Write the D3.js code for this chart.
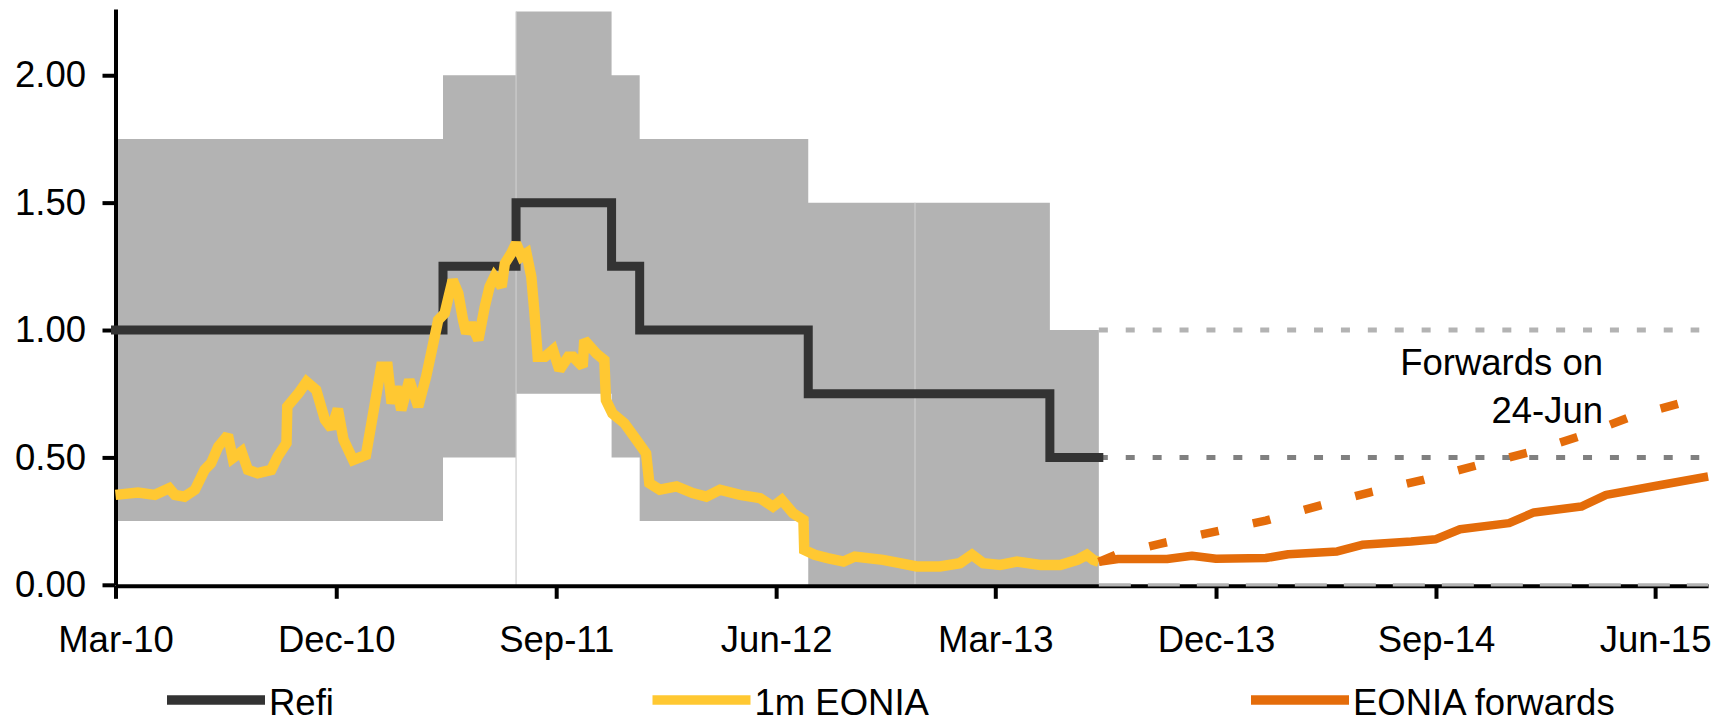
<!DOCTYPE html>
<html>
<head>
<meta charset="utf-8">
<script src="https://cdn.jsdelivr.net/npm/d3@7/dist/d3.min.js"></script>
<style>
  html, body { margin: 0; padding: 0; background: #ffffff; }
  svg { display: block; }
  text { font-family: "Liberation Sans", Arial, Helvetica, sans-serif; fill: #000; }
</style>
</head>
<body>
<div id="chart"></div>
<script>
// ---- Axis ticks ----
const xTickDates  = ["2010-03-01","2010-12-01","2011-09-01","2012-06-01","2013-03-01","2013-12-01","2014-09-01","2015-06-01"];
const xTickLabels = ["Mar-10","Dec-10","Sep-11","Jun-12","Mar-13","Dec-13","Sep-14","Jun-15"];
const yTicks      = [0, 0.5, 1, 1.5, 2];

// ---- ECB policy rates (effective dates, last entry closes the history) ----
const policyDates  = ["2010-03-01","2011-04-13","2011-07-13","2011-11-09","2011-12-14","2012-07-11","2013-05-08","2013-07-08"];
const refiRate     = [1.00, 1.25, 1.50, 1.25, 1.00, 0.75, 0.50];
const depositRate  = [0.25, 0.50, 0.75, 0.50, 0.25, 0.00, 0.00];
const lendingRate  = [1.75, 2.00, 2.25, 2.00, 1.75, 1.50, 1.00];
// where the corridor shading is split into separate pieces
const corridorSeams = ["2011-07-13","2012-11-21"];

// ---- 1m EONIA ----
const eoniaDates = [
  "2010-03-01","2010-03-29","2010-04-19","2010-05-07","2010-05-14","2010-05-26","2010-06-08","2010-06-20",
  "2010-06-28","2010-07-07","2010-07-19","2010-07-25","2010-08-05","2010-08-13","2010-08-25","2010-09-11",
  "2010-09-19","2010-09-30","2010-10-01","2010-10-15","2010-10-25","2010-11-06","2010-11-17","2010-11-25",
  "2010-12-03","2010-12-10","2010-12-22","2011-01-07","2011-01-16","2011-01-26","2011-02-03","2011-02-08",
  "2011-02-14","2011-02-20","2011-03-02","2011-03-13","2011-03-23","2011-03-31","2011-04-07","2011-04-15",
  "2011-04-19","2011-04-25","2011-05-02","2011-05-08","2011-05-12","2011-05-18","2011-05-27","2011-06-04",
  "2011-06-10","2011-06-16","2011-06-25","2011-06-29","2011-07-07","2011-07-13","2011-07-20","2011-07-26",
  "2011-08-01","2011-08-05","2011-08-09","2011-08-18","2011-08-28","2011-09-05","2011-09-16","2011-09-22",
  "2011-10-04","2011-10-06","2011-10-21","2011-10-31","2011-11-02","2011-11-10","2011-11-25","2011-12-10",
  "2011-12-22","2011-12-26","2012-01-08","2012-01-29","2012-02-18","2012-03-06","2012-03-23","2012-04-17",
  "2012-05-12","2012-05-28","2012-06-08","2012-06-22","2012-07-05","2012-07-06","2012-07-19","2012-08-04",
  "2012-08-24","2012-09-07","2012-10-12","2012-11-02","2012-11-23","2012-12-22","2013-01-16","2013-01-31",
  "2013-02-14","2013-03-07","2013-03-28","2013-04-26","2013-05-21","2013-06-11","2013-06-23","2013-07-01",
  "2013-07-08"
];
const eoniaValues = [
  0.353,0.362,0.353,0.379,0.353,0.346,0.373,0.451,
  0.477,0.542,0.588,0.497,0.523,0.451,0.438,0.451,
  0.503,0.556,0.699,0.752,0.797,0.765,0.647,0.614,
  0.690,0.570,0.490,0.510,0.673,0.856,0.856,0.712,
  0.778,0.686,0.804,0.699,0.817,0.935,1.039,1.065,
  1.118,1.196,1.144,1.039,0.987,1.026,0.961,1.091,
  1.170,1.209,1.170,1.261,1.301,1.340,1.288,1.301,
  1.209,1.065,0.895,0.895,0.922,0.843,0.895,0.895,
  0.856,0.961,0.908,0.882,0.725,0.673,0.634,0.569,
  0.516,0.399,0.373,0.386,0.360,0.346,0.373,0.353,
  0.340,0.307,0.333,0.281,0.255,0.137,0.118,0.105,
  0.091,0.111,0.098,0.085,0.072,0.072,0.085,0.118,
  0.085,0.078,0.091,0.078,0.078,0.098,0.118,0.098,
  0.090
];

// ---- EONIA forwards (current) ----
const fwdDates  = ["2013-07-08","2013-08-01","2013-10-01","2013-11-01","2013-12-01","2014-02-01","2014-03-01","2014-05-01",
                   "2014-06-01","2014-08-01","2014-09-01","2014-10-01","2014-12-01","2015-01-01","2015-03-01","2015-04-01",
                   "2015-06-01","2015-08-06"];
const fwdValues = [0.090,0.101,0.101,0.114,0.102,0.105,0.120,0.131,
                   0.157,0.170,0.179,0.218,0.242,0.284,0.307,0.353,
                   0.388,0.425];

// ---- EONIA forwards as of 24-Jun ----
const fwdJunDates  = ["2013-07-08","2013-08-01","2013-09-22","2013-11-27","2014-02-01","2014-04-08","2014-06-11","2014-08-16",
                      "2014-10-21","2014-12-25","2015-02-28","2015-05-02","2015-07-06","2015-08-06"];
const fwdJunValues = [0.090,0.122,0.161,0.207,0.252,0.310,0.363,0.412,
                      0.468,0.519,0.584,0.660,0.716,0.740];

// ---- Policy rate levels carried forward over the forecast horizon ----
const guideLevels = [1.00, 0.50];
const guideStart  = "2013-07-08";
const guideEnd    = "2015-07-26";
const floorLevel  = 0.00;
const floorEnd    = "2015-08-06";

const legendLabels = ["Refi", "1m EONIA", "EONIA forwards"];

// ------------------------------------------------------------
const W = 1729, H = 723;
const parse = d3.timeParse("%Y-%m-%d");
const COL = {
  band: "#b3b3b3", refi: "#333333", eonia: "#ffc832", fwd: "#e46c0a",
  guideLight: "#b3b3b3", guideDark: "#808080", seam: "#cdcdcd"
};
const FONT = 36.5;

const svg = d3.select("#chart").append("svg").attr("width", W).attr("height", H);

const x = d3.scaleTime()
  .domain([parse("2010-03-01"), parse("2015-08-06")])
  .range([115.5, 1708.1]);
const y = d3.scaleLinear().domain([0, 2.26]).range([584.8, 9]);

// corridor band (deposit rate to marginal lending rate)
const bandData = policyDates.map((d, i) => ({
  date: parse(d),
  lo: depositRate[Math.min(i, depositRate.length - 1)],
  hi: lendingRate[Math.min(i, lendingRate.length - 1)]
}));
svg.append("path")
  .datum(bandData)
  .attr("fill", COL.band)
  .attr("d", d3.area().curve(d3.curveStepAfter)
    .x(d => x(d.date)).y0(d => y(d.lo)).y1(d => y(d.hi)));

// seams between corridor pieces
corridorSeams.forEach(s => {
  const dt = parse(s);
  const idx = d3.bisectRight(bandData.map(d => d.date), dt) - 1;
  svg.append("line")
    .attr("x1", x(dt)).attr("x2", x(dt))
    .attr("y1", y(bandData[idx].hi)).attr("y2", y(0))
    .attr("stroke", COL.seam).attr("stroke-width", 1.2);
});

// dotted levels carried forward
guideLevels.forEach((lv, i) => {
  svg.append("line")
    .attr("x1", x(parse(guideStart))).attr("x2", x(parse(guideEnd)))
    .attr("y1", y(lv)).attr("y2", y(lv))
    .attr("stroke", i === 0 ? COL.guideLight : COL.guideDark)
    .attr("stroke-width", 5)
    .attr("stroke-dasharray", "9,17.9");
});

// x axis
const xAxis = d3.axisBottom(x)
  .tickValues(xTickDates.map(parse))
  .tickFormat((d, i) => xTickLabels[i])
  .tickSize(13).tickSizeOuter(0).tickPadding(27);
const gx = svg.append("g").attr("transform", `translate(0,${y(0) + 1})`).call(xAxis);
gx.select(".domain").attr("stroke", "#000").attr("stroke-width", 4);
gx.selectAll(".tick line").attr("stroke", "#000").attr("stroke-width", 4);
gx.selectAll(".tick text").attr("font-size", FONT).attr("fill", "#000")
  .style("font-family", '"Liberation Sans", Arial, sans-serif');

// deposit floor carried forward, over the axis line
svg.append("line")
  .attr("x1", x(parse(guideStart))).attr("x2", x(parse(floorEnd)))
  .attr("y1", y(floorLevel)).attr("y2", y(floorLevel))
  .attr("stroke", COL.guideLight).attr("stroke-width", 3.2)
  .attr("stroke-dasharray", "32,17");

// y axis
const yAxis = d3.axisLeft(y)
  .tickValues(yTicks)
  .tickFormat(d3.format(".2f"))
  .tickSize(13).tickSizeOuter(0).tickPadding(16.5);
const gy = svg.append("g").attr("transform", `translate(${x.range()[0]},0)`).call(yAxis);
gy.select(".domain").attr("stroke", "#000").attr("stroke-width", 4);
gy.selectAll(".tick line").attr("stroke", "#000").attr("stroke-width", 4);
gy.selectAll(".tick text").attr("font-size", FONT).attr("fill", "#000")
  .style("font-family", '"Liberation Sans", Arial, sans-serif');

// refi step line
const refiData = policyDates.map((d, i) => ({ date: parse(d), v: refiRate[Math.min(i, refiRate.length - 1)] }));
svg.append("path")
  .datum(refiData)
  .attr("fill", "none").attr("stroke", COL.refi).attr("stroke-width", 9)
  .attr("stroke-linejoin", "miter").attr("stroke-linecap", "square")
  .attr("d", d3.line().curve(d3.curveStepAfter).x(d => x(d.date)).y(d => y(d.v)));

// 1m EONIA
const line = d3.line().x(d => x(d.date)).y(d => y(d.v));
const eonia = eoniaDates.map((d, i) => ({ date: parse(d), v: eoniaValues[i] }));
svg.append("path")
  .datum(eonia)
  .attr("fill", "none").attr("stroke", COL.eonia).attr("stroke-width", 10.5)
  .attr("stroke-linejoin", "miter").attr("stroke-miterlimit", 2)
  .attr("d", line);

// forwards as of 24-Jun (dashed)
const fwdJun = fwdJunDates.map((d, i) => ({ date: parse(d), v: fwdJunValues[i] }));
svg.append("path")
  .datum(fwdJun)
  .attr("fill", "none").attr("stroke", COL.fwd).attr("stroke-width", 8.5)
  .attr("stroke-dasharray", "18,35")
  .attr("d", line);

// current EONIA forwards
const fwd = fwdDates.map((d, i) => ({ date: parse(d), v: fwdValues[i] }));
svg.append("path")
  .datum(fwd)
  .attr("fill", "none").attr("stroke", COL.fwd).attr("stroke-width", 8.5)
  .attr("stroke-linejoin", "round")
  .attr("d", line);

// annotation
const ann = svg.append("text")
  .attr("text-anchor", "end").attr("font-size", FONT).attr("fill", "#000");
ann.append("tspan").attr("x", 1603).attr("y", 375).text("Forwards on");
ann.append("tspan").attr("x", 1603).attr("y", 423).text("24-Jun");

// legend
const legendItems = [
  { label: legendLabels[0], color: COL.refi,  x0: 167 },
  { label: legendLabels[1], color: COL.eonia, x0: 652.5 },
  { label: legendLabels[2], color: COL.fwd,   x0: 1251 }
];
const lg = svg.append("g");
legendItems.forEach(it => {
  lg.append("line")
    .attr("x1", it.x0).attr("x2", it.x0 + 98)
    .attr("y1", 700).attr("y2", 700)
    .attr("stroke", it.color).attr("stroke-width", 9.5);
  lg.append("text")
    .attr("x", it.x0 + 102).attr("y", 714.5)
    .attr("font-size", FONT).attr("fill", "#000")
    .text(it.label);
});
</script>
</body>
</html>
